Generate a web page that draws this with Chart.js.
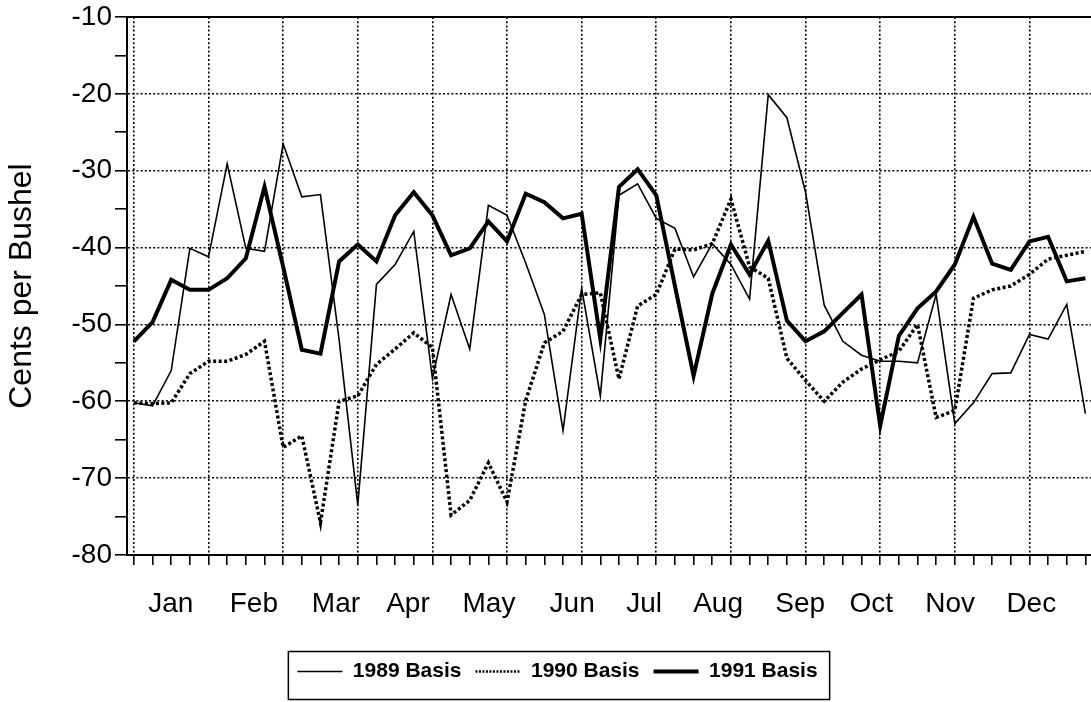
<!DOCTYPE html>
<html>
<head>
<meta charset="utf-8">
<script src="https://cdn.jsdelivr.net/npm/chart.js@4/dist/chart.umd.min.js"></script>
<style>
body{margin:0;background:#fff;}
#wrap{width:1091px;height:702px;}
</style>
</head>
<body>
<div id="wrap"><canvas id="myChart"></canvas></div>
<script>
// weekly basis, cents per bushel (week 0..51)
var months=["Jan","Feb","Mar","Apr","May","Jun","Jul","Aug","Sep","Oct","Nov","Dec"];
var monthPos=[1.98,6.43,10.83,14.69,19.03,23.49,27.35,31.31,35.71,39.52,43.75,48.10];

var basis1989=[-60.2,-60.6,-56.0,-40.1,-41.2,-29.1,-40.1,-40.5,-26.5,-33.4,
-33.1,-52.0,-73.5,-44.8,-42.2,-37.9,-57.0,-46.1,-53.2,-34.5,
-35.8,-42.0,-48.7,-63.8,-45.3,-59.3,-33.2,-31.7,-36.2,-37.5,
-43.8,-39.5,-42.2,-46.7,-20.1,-23.1,-32.8,-47.5,-52.2,-54.0,
-54.8,-54.8,-55.0,-46.1,-62.9,-60.2,-56.4,-56.3,-51.3,-51.9,
-47.4,-61.6];
var basis1990=[-60.2,-60.3,-60.2,-56.4,-54.8,-54.8,-53.9,-52.2,-66.0,-64.5,
-75.8,-60.0,-59.3,-55.2,-53.2,-51.1,-53.0,-74.8,-72.9,-68.0,
-73.1,-59.9,-52.4,-50.9,-46.1,-45.9,-57.1,-47.6,-46.1,-40.2,
-40.3,-39.5,-33.7,-42.5,-44.0,-54.4,-57.3,-60.0,-57.5,-55.8,
-54.6,-53.5,-50.0,-62.1,-61.2,-46.6,-45.5,-45.0,-43.5,-41.5,
-41.0,-40.5];
var basis1991=[-52.2,-49.7,-44.2,-45.5,-45.5,-44.0,-41.4,-32.1,-42.5,-53.3,
-53.8,-41.8,-39.6,-41.8,-35.8,-32.8,-35.8,-41.0,-40.1,-36.6,
-39.2,-33.0,-34.1,-36.2,-35.6,-51.9,-32.1,-29.8,-33.2,-45.0,
-56.7,-46.0,-39.6,-43.5,-39.1,-49.5,-52.2,-50.9,-48.5,-46.1,
-63.2,-51.5,-47.9,-45.7,-42.2,-36.0,-42.1,-42.9,-39.2,-38.6,
-44.4,-44.0];

var xMin=-0.37, xMax=51.3;
var dots=[2,2.2];
// legend samples: width, dash
var legendLine=[[1.5,[]],[2.5,[2,1.5]],[4,[]]];

function pts(arr){return arr.map(function(v,i){return {x:i,y:v};});}

Chart.defaults.font.family="'Liberation Sans', Arial, sans-serif";
Chart.defaults.color="#000";

// shift the legend a bit to the right and put a frame round it
var legendBox={
  id:'legendBox',
  afterLayout:function(chart){chart.legend.left+=12;chart.legend.right+=12;},
  afterDraw:function(chart){
    var hb=chart.legend.legendHitBoxes;
    if(!hb||!hb.length)return;
    var last=hb[hb.length-1];
    var l=hb[0].left-9, r=last.left+last.width+12;
    var cy=hb[0].top+hb[0].height/2;
    var ctx=chart.ctx;
    ctx.save();
    ctx.strokeStyle="#000";ctx.lineWidth=1.5;
    ctx.strokeRect(l,cy-20,r-l,48);
    ctx.restore();
  }
};

var ctx=document.getElementById("myChart");
var myChart=new Chart(ctx,{
  type:'line',
  data:{
    datasets:[{
      label:'1989 Basis',
      data:pts(basis1989),
      borderColor:"#000",backgroundColor:"rgba(0,0,0,0)",
      borderWidth:1.6,pointRadius:0,tension:0
    },{
      label:'1990 Basis',
      data:pts(basis1990),
      borderColor:"#000",backgroundColor:"rgba(0,0,0,0)",
      borderWidth:3.5,borderDash:[3,2.5],pointRadius:0,tension:0
    },{
      label:'1991 Basis',
      data:pts(basis1991),
      borderColor:"#000",backgroundColor:"rgba(0,0,0,0)",
      borderWidth:4,pointRadius:0,tension:0
    }]
  },
  options:{
    responsive:true,maintainAspectRatio:false,animation:false,
    layout:{padding:{top:14,bottom:10,left:0,right:0}},
    plugins:{
      tooltip:{enabled:false},
      legend:{
        position:'bottom',
        labels:{usePointStyle:true,pointStyle:'line',pointStyleWidth:45,padding:14,
          font:{size:21,weight:'bold'},color:"#000",
          generateLabels:function(chart){
            var items=Chart.defaults.plugins.legend.labels.generateLabels(chart);
            items.forEach(function(it,i){
              it.lineWidth=legendLine[i][0];
              it.lineDash=legendLine[i][1];
              it.strokeStyle="#000";
              it.pointStyle='line';
            });
            return items;
          }}
      }
    },
    scales:{
      x:{
        type:'linear',position:'bottom',min:xMin,max:xMax,
        afterBuildTicks:function(s){
          var t=[];for(var i=0;i<basis1989.length;i++)t.push({value:i});
          s.ticks=t;
        },
        ticks:{display:false},
        grid:{
          color:function(c){return c.tick&&c.tick.value%4===0?"#000":"rgba(0,0,0,0)";},
          lineWidth:1.6,tickColor:"#000",tickWidth:1.6,tickLength:10
        },
        border:{display:true,color:"#000",width:2,dash:dots}
      },
      xm:{
        type:'linear',position:'bottom',min:xMin,max:xMax,
        afterBuildTicks:function(s){s.ticks=monthPos.map(function(v){return {value:v};});},
        afterFit:function(s){s.height=82;},
        ticks:{
          autoSkip:false,maxRotation:0,padding:22,font:{size:28},
          callback:function(v,i){return months[i];}
        },
        grid:{display:false,drawTicks:false},
        border:{display:false}
      },
      xt:{
        type:'linear',position:'top',min:xMin,max:xMax,
        ticks:{display:false},
        grid:{display:false,drawTicks:false},
        border:{display:true,color:"#000",width:2}
      },
      y:{
        min:-80,max:-10,
        afterFit:function(s){s.width=127;},
        ticks:{
          stepSize:5,padding:3,font:{size:28,lineHeight:1},
          callback:function(v){return v%10===0?v:'';}
        },
        grid:{
          color:function(c){return c.tick&&c.tick.value%10===0?"#000":"rgba(0,0,0,0)";},
          lineWidth:1.6,tickColor:"#000",tickWidth:1.6,tickLength:12
        },
        border:{display:true,color:"#000",width:2,dash:dots},
        title:{display:true,text:'Cents per Bushel',font:{size:32},padding:{top:3,bottom:0}}
      }
    }
  },
  plugins:[legendBox]
});
</script>
</body>
</html>
